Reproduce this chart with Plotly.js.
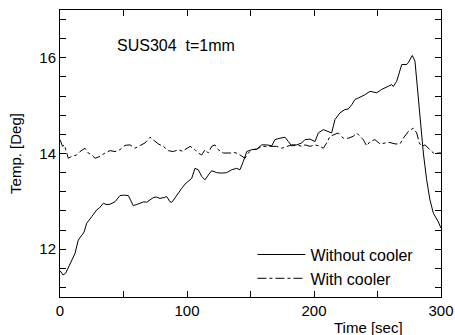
<!DOCTYPE html>
<html>
<head>
<meta charset="utf-8">
<script src="https://cdn.plot.ly/plotly-3.0.1.min.js"></script>
<style>html,body{margin:0;padding:0;background:#fff;}#chart{width:455px;height:335px;}</style>
</head>
<body>
<div id="chart"></div>
<script>
// Without cooler (solid)
const timeWithout = [0, 2.4, 4.5, 7.9, 10.5, 11.8, 14.4, 17.1, 19, 21, 23, 25, 28.9, 31, 34.1, 37, 39.4, 43.3, 47.2, 50, 53.8, 57.7, 60, 63, 66, 68.2, 70.9, 73.5, 76, 78.7, 82, 84, 86.6, 88, 90, 91.9, 95.8, 98.4, 101, 103.7, 106.3, 108.9, 111.6, 114.2, 116.8, 119.4, 123.4, 127.3, 131.2, 135.2, 139.1, 141.7, 144.3, 147, 150.9, 154.9, 158.8, 162.8, 166.7, 169.3, 173.2, 177.2, 179.8, 182.4, 186.4, 190.3, 192.9, 196.9, 200.8, 203.4, 207.3, 211.3, 213.9, 216.5, 220.5, 224.4, 227, 229.7, 232.3, 234.9, 240.2, 244.1, 249.4, 253.3, 258.5, 261.2, 262.4, 265.1, 269.1, 273, 274.3, 277.4, 279.5, 281.4, 283.5, 286.1, 288.7, 291.3, 294, 297.9, 300];
const tempWithout = [11.55, 11.46, 11.50, 11.70, 11.85, 11.91, 12.19, 12.30, 12.36, 12.54, 12.60, 12.68, 12.82, 12.86, 12.96, 12.93, 12.94, 12.99, 13.12, 13.13, 13.12, 12.91, 12.93, 12.96, 12.99, 12.98, 13.04, 13.08, 13.09, 13.06, 13.08, 13.10, 12.99, 12.98, 13.05, 13.13, 13.27, 13.36, 13.42, 13.48, 13.69, 13.66, 13.52, 13.45, 13.55, 13.64, 13.60, 13.59, 13.60, 13.66, 13.69, 13.66, 13.83, 14.04, 14.08, 14.09, 14.18, 14.18, 14.16, 14.29, 14.32, 14.34, 14.25, 14.16, 14.18, 14.22, 14.29, 14.30, 14.25, 14.43, 14.50, 14.46, 14.43, 14.71, 14.85, 14.92, 14.93, 15.02, 15.13, 15.16, 15.23, 15.30, 15.27, 15.34, 15.40, 15.44, 15.40, 15.51, 15.86, 15.86, 15.90, 16.05, 15.93, 15.40, 14.71, 14.01, 13.45, 13.03, 12.75, 12.57, 12.44];

// With cooler (dash-dot)
const timeWith = [0, 2, 3.4, 6.5, 9.2, 13.1, 15.7, 19.7, 22.3, 24.9, 27.6, 31.5, 35.4, 39.4, 43.3, 47.2, 51.2, 55.1, 59, 61.7, 66.9, 70.9, 73.5, 77.4, 81.3, 85.3, 89.2, 93.1, 97.1, 98.4, 102.4, 106.3, 108.9, 111.6, 114.2, 116.8, 119.4, 122, 124.6, 128.6, 133.9, 137.8, 141.7, 145.7, 148.3, 150.9, 154.9, 158.8, 162.8, 166.7, 170.6, 174.6, 178.5, 182.4, 186.4, 190.3, 192.9, 196.9, 200.8, 204.7, 207.3, 210, 212.6, 215.2, 219.1, 223.1, 227, 230.9, 233.6, 236.2, 238.8, 241.5, 244.1, 248, 252, 255.9, 259.8, 263.8, 267.7, 270.3, 274.3, 278.2, 280.9, 282.9, 284.8, 287.4, 290, 294, 297.9, 300];
const tempWith = [14.29, 14.15, 14.18, 13.90, 13.94, 13.97, 14.04, 14.11, 14.01, 13.97, 13.90, 13.94, 14.01, 14.06, 14.04, 14.08, 14.17, 14.18, 14.11, 14.15, 14.22, 14.34, 14.29, 14.20, 14.15, 14.06, 14.04, 14.08, 14.04, 14.08, 14.15, 14.08, 14.01, 13.97, 14.08, 14.01, 14.15, 14.18, 14.08, 14.01, 14.01, 14.02, 13.97, 13.90, 14.01, 14.08, 14.09, 14.15, 14.15, 14.15, 14.15, 14.11, 14.15, 14.18, 14.18, 14.15, 14.18, 14.15, 14.18, 14.15, 14.11, 14.22, 14.36, 14.39, 14.43, 14.32, 14.32, 14.36, 14.43, 14.36, 14.29, 14.16, 14.25, 14.29, 14.20, 14.22, 14.23, 14.20, 14.20, 14.32, 14.46, 14.53, 14.43, 14.22, 14.15, 14.18, 14.11, 14.01, 14.01, 14.01];

const seriesNames = ['Without cooler', 'With cooler'];
const xTickVals = [0, 100, 200, 300];
const yTickVals = [12, 14, 16];
const noteText = 'SUS304  t=1mm';
const xTitle = 'Time [sec]';
const yTitle = 'Temp. [Deg]';

const FONT = '"Liberation Sans", Arial, sans-serif';

const traces = [
  {x: timeWithout, y: tempWithout, name: seriesNames[0], type: 'scatter', mode: 'lines',
   line: {color: '#000', width: 1}},
  {x: timeWith, y: tempWith, name: seriesNames[1], type: 'scatter', mode: 'lines',
   line: {color: '#000', width: 1, dash: 'dashdot'}}
];

const layout = {
  width: 455, height: 335,
  margin: {l: 60, r: 14, t: 10, b: 38, pad: 0},
  paper_bgcolor: '#fff', plot_bgcolor: '#fff',
  font: {family: FONT, size: 15, color: '#000'},
  showlegend: true,
  legend: {x: 0.505, y: 0.207, xanchor: 'left', yanchor: 'top', bgcolor: 'rgba(0,0,0,0)',
           font: {family: FONT, size: 16, color: '#000'}, tracegroupgap: 0, itemwidth: 48},
  xaxis: {range: [0, 300], tickvals: xTickVals, ticktext: xTickVals.map(String),
          ticks: 'inside', ticklen: 6, tickcolor: '#000', tickwidth: 1,
          minor: {dtick: 50, ticks: 'inside', ticklen: 6, tickcolor: '#000'},
          showline: true, linecolor: '#000', linewidth: 1, mirror: 'allticks',
          showgrid: false, zeroline: false, tickfont: {size: 15}},
  yaxis: {range: [11, 17], tickvals: yTickVals, ticktext: yTickVals.map(String),
          ticks: 'inside', ticklen: 6, tickcolor: '#000', tickwidth: 1,
          minor: {tick0: 0, dtick: 0.4, ticks: 'inside', ticklen: 6, tickcolor: '#000'},
          showline: true, linecolor: '#000', linewidth: 1, mirror: 'allticks',
          showgrid: false, zeroline: false, tickfont: {size: 15},
          title: {text: yTitle, font: {size: 15}, standoff: 14}},
  annotations: [
    {text: noteText, xref: 'paper', yref: 'paper', x: 0.145, y: 0.875, xanchor: 'left', yanchor: 'middle',
     showarrow: false, font: {size: 16}},
    {text: xTitle, xref: 'paper', yref: 'paper', x: 0.81, y: -0.105, xanchor: 'center', yanchor: 'middle',
     showarrow: false, font: {size: 15}}
  ]
};

Plotly.newPlot('chart', traces, layout, {staticPlot: true, displayModeBar: false});
</script>
</body>
</html>
